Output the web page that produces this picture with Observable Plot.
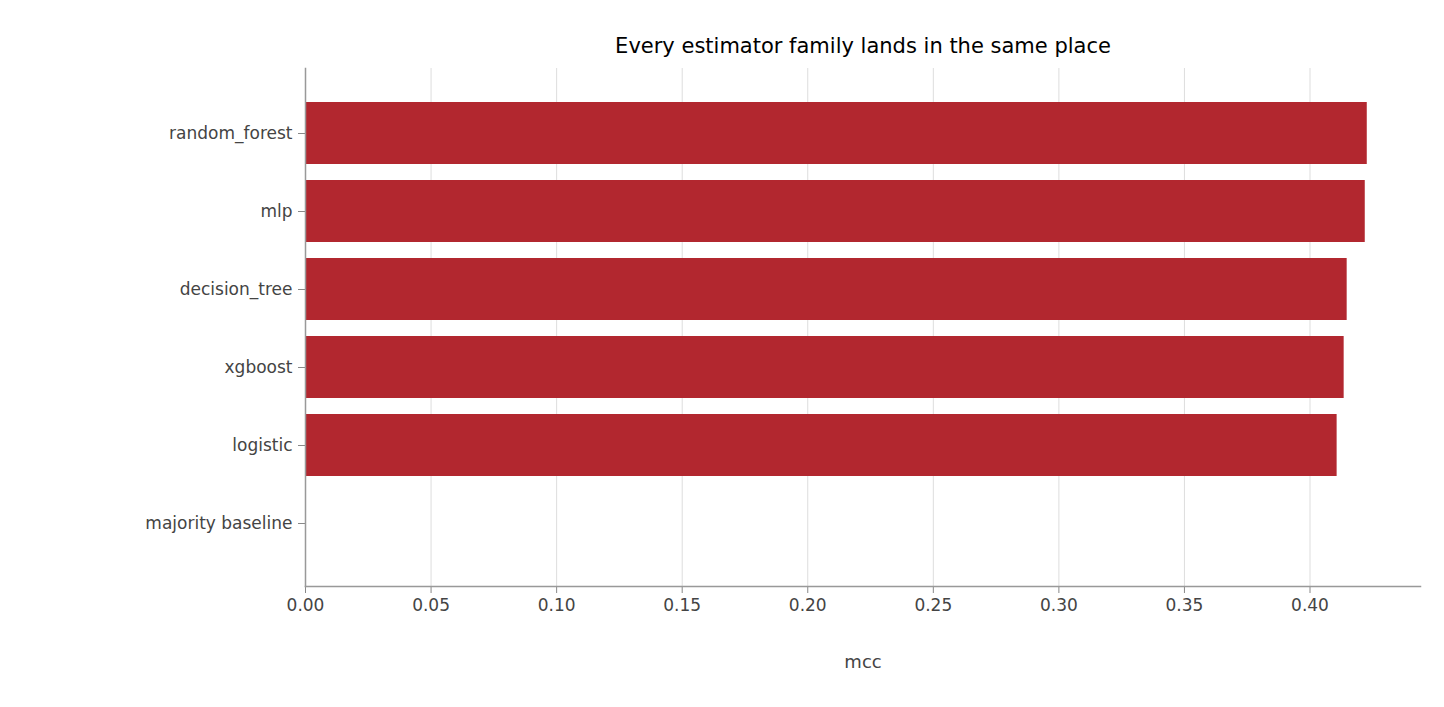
<!DOCTYPE html>
<html><head><meta charset="utf-8">
<script src="https://cdn.jsdelivr.net/npm/d3@7"></script>
<script src="https://cdn.jsdelivr.net/npm/@observablehq/plot@0.6"></script>
<style>body{margin:0;background:#fff}</style>
</head><body><div id="chart"></div>
<script>
const models = ["random_forest","mlp","decision_tree","xgboost","logistic","majority baseline"];
const mcc = [0.4228, 0.4220, 0.4148, 0.4136, 0.4108, 0];
const xTicks = [0,0.05,0.1,0.15,0.2,0.25,0.3,0.35,0.4];
const title = "Every estimator family lands in the same place";
const data = models.map((m,i)=>({model:m, mcc:mcc[i]}));
const chart = Plot.plot({
  width:1444, height:707,
  marginLeft:305, marginRight:24, marginTop:68, marginBottom:121,
  style:{fontFamily:"DejaVu Sans", fontSize:"17px", color:"#444", background:"#fff"},
  x:{domain:[0,0.444], ticks:xTicks, tickFormat:d=>d.toFixed(2), grid:false, label:null},
  y:{domain:models, range:[85.5,571.5], padding:0.2, label:null},
  marks:[
    Plot.gridX(xTicks,{stroke:"#ddd", strokeOpacity:1}),
    Plot.barX(data,{x:"mcc", y:"model", fill:"#b2272f"}),
    Plot.axisX({ticks:xTicks, tickFormat:d=>d.toFixed(2), tickSize:7, tickPadding:5, stroke:"#888", fill:"#444", label:null}),
    Plot.axisY({tickSize:7, tickPadding:6, stroke:"#888", fill:"#444", label:null}),
    Plot.frame({anchor:"left", stroke:"#999", strokeWidth:1.5}),
    Plot.frame({anchor:"bottom", stroke:"#999", strokeWidth:1.5}),
    Plot.text([title],{frameAnchor:"top", dy:-30, fill:"#000", fontSize:21}),
    Plot.text(["mcc"],{frameAnchor:"bottom", dy:81, fill:"#444", fontSize:18})
  ]
});
document.getElementById("chart").append(chart);
</script></body></html>
